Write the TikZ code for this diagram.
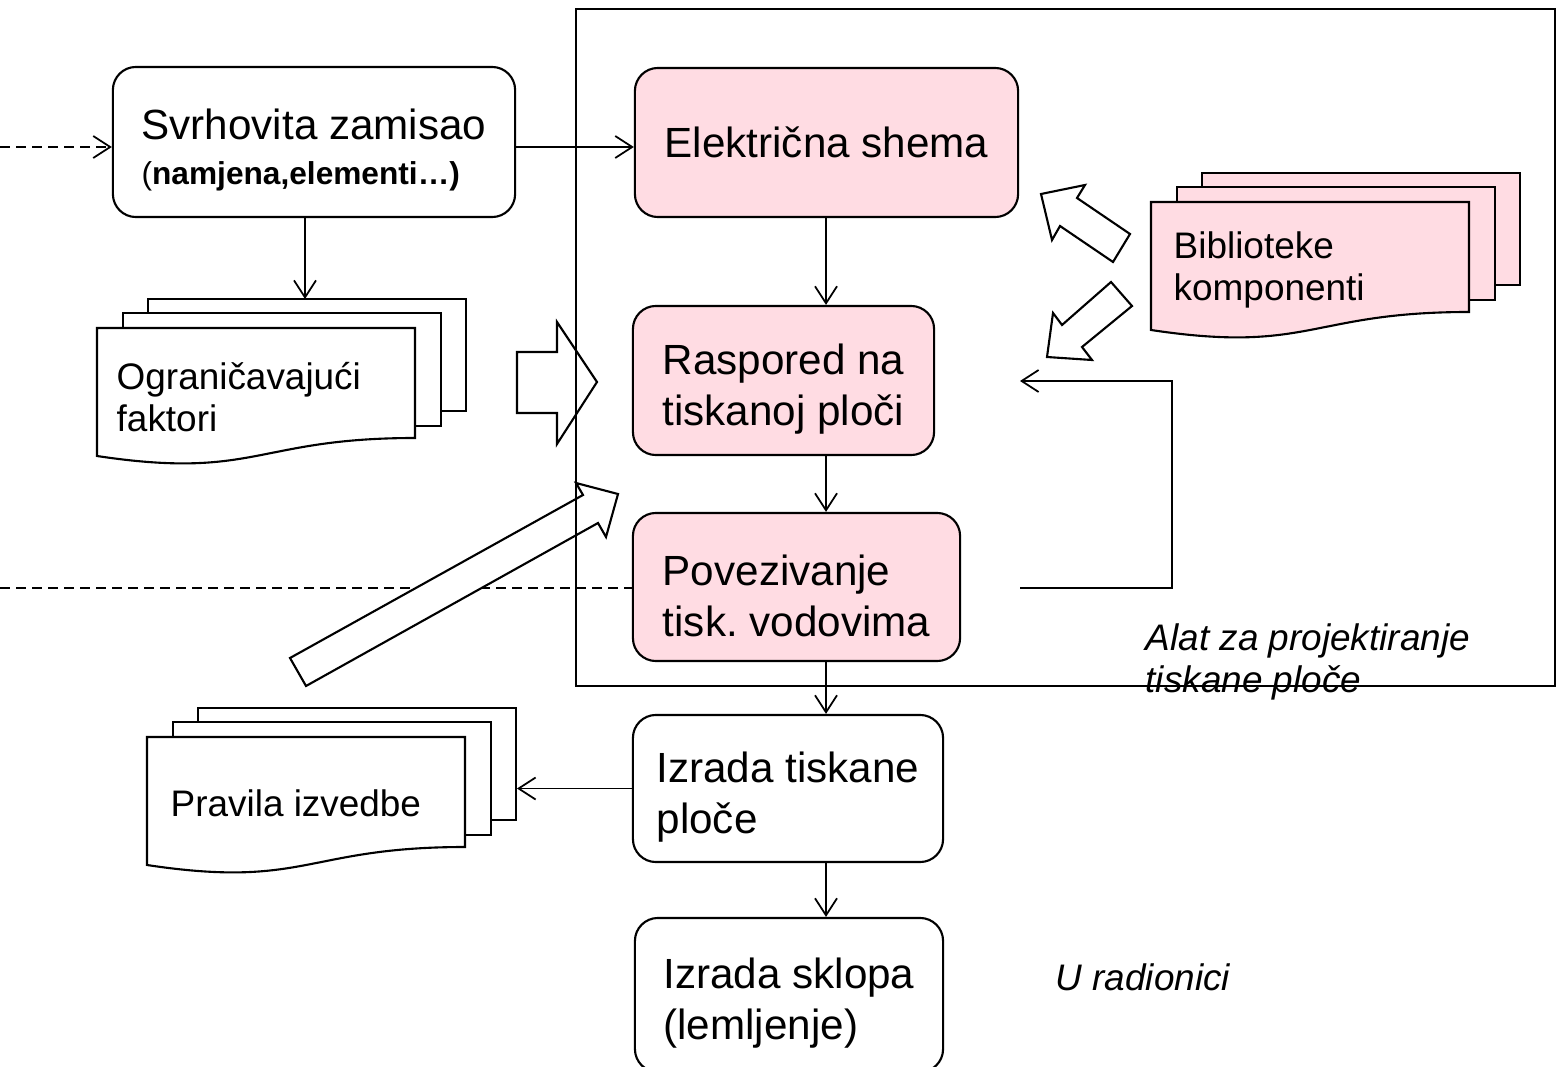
\documentclass[tikz,border=0pt]{standalone}
\usepackage{fontspec}
\setmainfont{Liberation Sans}
\usetikzlibrary{arrows.meta}

\definecolor{pcbpink}{RGB}{255,220,227}
\frenchspacing

% extra room above the first line of a two-line box
\newcommand{\padtop}{\rule{0pt}{13.5pt}}

% stack of three sheets, #1,#2 = top left corner of the front sheet, #3 = fill
\newcommand{\docstack}[3]{%
  \draw[doc, fill=#3] (#1+51,#2-29) rectangle (#1+369,#2+83);
  \draw[doc, fill=#3] (#1+26,#2-15) rectangle (#1+344,#2+98);
  \draw[doc, fill=#3] (#1,#2) -- (#1+318,#2) -- (#1+318,#2+110)
    .. controls (#1+159,#2+110) and (#1+159,#2+152) .. (#1,#2+128) -- cycle;
}

\begin{document}
\begin{tikzpicture}[x=0.01cm, y=-0.01cm,
    >={Straight Barb[length=1.7mm,width=2.2mm]},
    stage/.style={draw, line width=0.6pt, rounded corners=2.3mm, inner sep=0pt,
      align=left, font=\fontsize{12}{14.5}\selectfont},
    tool/.style={stage, fill=pcbpink},
    doc/.style={line width=0.6pt, draw},
    doctext/.style={anchor=west, inner sep=0pt, align=left,
      font=\fontsize{10.5}{12}\selectfont},
    note/.style={inner sep=0pt, align=left, font=\fontsize{10.5}{12}\selectfont\itshape},
    link/.style={->, line width=0.5pt},
    dashline/.style={line width=0.5pt, dash pattern=on 1mm off 0.6mm},
    blockarrow/.style={draw, fill=white, line width=0.6pt}]

    % Size of the slide
    \useasboundingbox (0,0) rectangle (1558,1067);

    % Free ends of the lines
    \coordinate (inlet) at (0,147);
    \coordinate (outlet) at (0,588);
    \coordinate (spine) at (826,0);
    \coordinate (ogrT) at (305,299);
    \coordinate (pravR) at (517,790);
    \coordinate (fbout) at (1020,588);
    \coordinate (fbin) at (1020,381);

    % Process boxes
    \node[stage, minimum width=4.02cm, minimum height=1.5cm] (svrh) at (314,142)
      {\padtop Svrhovita zamisao\\[-1.7pt]{\fontsize{9}{11}\selectfont(\textbf{namjena,elementi…)}}};
    \node[tool, minimum width=3.83cm, minimum height=1.49cm] (elek) at (826.5,142.5) {Električna shema};
    \node[tool, minimum width=3.01cm, minimum height=1.49cm] (rasp) at (783.5,380.5) {\padtop Raspored na\\tiskanoj ploči};
    \node[tool, minimum width=3.27cm, minimum height=1.48cm] (povez) at (796.5,587) {\padtop Povezivanje\\tisk. vodovima};
    \node[stage, minimum width=3.10cm, minimum height=1.47cm] (izrtp) at (788,788.5) {\padtop Izrada tiskane\\ploče};
    \node[stage, minimum width=3.08cm, minimum height=1.54cm] (sklop) at (789,995) {\padtop Izrada sklopa\\(lemljenje)};

    % Dashed lines from the left
    \draw[dashline, ->] (inlet) -- (inlet -| svrh.west);
    \draw[dashline] (outlet) -- (outlet -| povez.west);

    % Block arrows
    \draw[blockarrow] (517,352) -- (557,352) -- (557,322) -- (597,382) -- (557,444) -- (557,413) -- (517,413) -- cycle;
    \draw[blockarrow] (618,494) -- (576,483) -- (583,495) -- (290,658) -- (306,686) -- (598,523) -- (606,537) -- cycle;
    \draw[blockarrow] (1041,194) -- (1085,185) -- (1077,198) -- (1130,234) -- (1113,262) -- (1060,226) -- (1052,240) -- cycle;
    \draw[blockarrow] (1047,357) -- (1053,313) -- (1062,325) -- (1111,282) -- (1132,306) -- (1082,347) -- (1092,360) -- cycle;

    % Frame of the design tool
    \draw[line width=0.6pt] (576,9) rectangle (1555,686);

    % Sheet stacks
    \docstack{97}{328}{white}
    \docstack{1151}{202}{pcbpink}
    \docstack{147}{737}{white}
    \node[doctext] (ogr) at (116,397) {Ograničavajući\\faktori};
    \node[doctext] (bibl) at (1173,270) {Biblioteke\\komponenti};
    \node[doctext] (prav) at (170,803) {Pravila izvedbe};

    % Connectors
    \draw[link] (svrh.east |- inlet) -- (elek.west |- inlet);
    \draw[link] (svrh.south -| ogrT) -- (ogrT);
    \draw[link] (spine |- elek.south) -- (spine |- rasp.north);
    \draw[link] (spine |- rasp.south) -- (spine |- povez.north);
    \draw[link] (spine |- povez.south) -- (spine |- izrtp.north);
    \draw[link] (spine |- izrtp.south) -- (spine |- sklop.north);
    \draw[link] (izrtp.west) -- (izrtp.west -| pravR);
    \draw[link] (fbout) -- ++(152,0) |- (fbin);

    % Notes
    \node[note, anchor=north west] (alat) at (1145,623) {Alat za projektiranje\\tiskane ploče};
    \node[note, anchor=west] (radion) at (1055,977) {U radionici};

\end{tikzpicture}
\end{document}
